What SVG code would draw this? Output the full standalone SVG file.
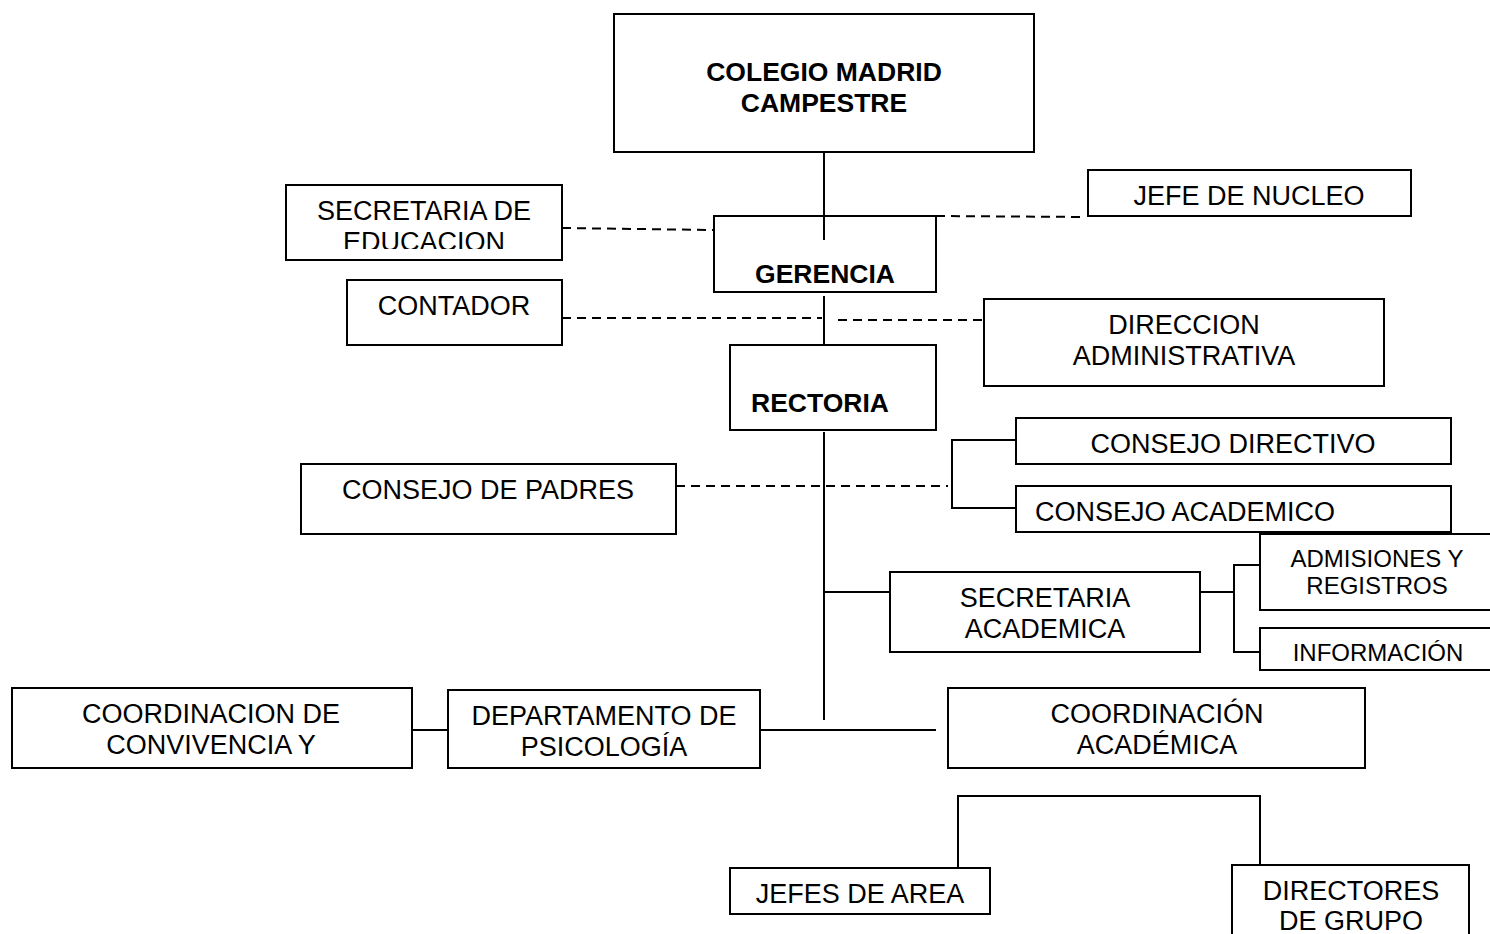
<svg xmlns="http://www.w3.org/2000/svg" width="1490" height="934" viewBox="0 0 1490 934">
<style>
.box{fill:#fff;stroke:#000;stroke-width:2}
.t{font-family:"Liberation Sans",Arial,sans-serif;font-size:27px;fill:#000;text-anchor:middle}
.s{font-size:24px}
.b{font-weight:bold;font-size:26.5px}
.ln{stroke:#000;stroke-width:2;fill:none}
.dash{stroke:#000;stroke-width:2;fill:none;stroke-dasharray:9 6}
</style>
<defs>
<clipPath id="clipEdu"><rect x="286" y="185" width="276" height="64"/></clipPath>
<clipPath id="clipInfo"><rect x="1260" y="628" width="230" height="34"/></clipPath>
</defs>
<rect width="1490" height="934" fill="#fff"/>
<g id="connectors">
<line class="ln" x1="824" y1="152" x2="824" y2="240"/>
<line class="ln" x1="824" y1="296" x2="824" y2="352"/>
<line class="ln" x1="824" y1="432" x2="824" y2="720"/>
<line class="dash" x1="562" y1="228" x2="714" y2="230"/>
<line class="dash" x1="936" y1="216" x2="1086" y2="217"/>
<line class="dash" x1="562" y1="318" x2="822" y2="318"/>
<line class="dash" x1="838" y1="320" x2="984" y2="320"/>
<line class="dash" x1="676" y1="486" x2="948" y2="486"/>
<polyline class="ln" points="1016,440 952,440 952,508 1016,508"/>
<line class="ln" x1="824" y1="592" x2="890" y2="592"/>
<line class="ln" x1="1200" y1="592" x2="1234" y2="592"/>
<polyline class="ln" points="1260,565 1234,565 1234,652 1260,652"/>
<line class="ln" x1="412" y1="730" x2="448" y2="730"/>
<line class="ln" x1="760" y1="730" x2="936" y2="730"/>
<polyline class="ln" points="958,868 958,796 1260,796 1260,865"/>
</g>
<g id="colegio">
<rect class="box" x="614" y="14" width="420" height="138"/>
<text class="t b" x="824" y="81">COLEGIO MADRID</text>
<text class="t b" x="824" y="112">CAMPESTRE</text>
</g>
<g id="gerencia">
<rect class="box" x="714" y="216" width="222" height="76"/>
<line class="ln" x1="824" y1="216" x2="824" y2="240"/>
<text class="t b" x="825" y="283">GERENCIA</text>
</g>
<g id="secretaria-educacion">
<rect class="box" x="286" y="185" width="276" height="75"/>
<text class="t" x="424" y="220">SECRETARIA DE</text>
<text class="t" x="424" y="251" clip-path="url(#clipEdu)">EDUCACION</text>
</g>
<g id="jefe-nucleo">
<rect class="box" x="1088" y="170" width="323" height="46"/>
<text class="t" x="1249" y="205">JEFE DE NUCLEO</text>
</g>
<g id="contador">
<rect class="box" x="347" y="280" width="215" height="65"/>
<text class="t" x="454" y="315">CONTADOR</text>
</g>
<g id="direccion-administrativa">
<rect class="box" x="984" y="299" width="400" height="87"/>
<text class="t" x="1184" y="334">DIRECCION</text>
<text class="t" x="1184" y="365">ADMINISTRATIVA</text>
</g>
<g id="rectoria">
<rect class="box" x="730" y="345" width="206" height="85"/>
<text class="t b" x="820" y="412">RECTORIA</text>
</g>
<g id="consejo-directivo">
<rect class="box" x="1016" y="418" width="435" height="46"/>
<text class="t" x="1233" y="453">CONSEJO DIRECTIVO</text>
</g>
<g id="consejo-academico">
<rect class="box" x="1016" y="486" width="435" height="46"/>
<text class="t" x="1185" y="521">CONSEJO ACADEMICO</text>
</g>
<g id="consejo-padres">
<rect class="box" x="301" y="464" width="375" height="70"/>
<text class="t" x="488" y="499">CONSEJO DE PADRES</text>
</g>
<g id="secretaria-academica">
<rect class="box" x="890" y="572" width="310" height="80"/>
<text class="t" x="1045" y="607">SECRETARIA</text>
<text class="t" x="1045" y="638">ACADEMICA</text>
</g>
<g id="admisiones">
<rect class="box" x="1260" y="534" width="240" height="76"/>
<text class="t s" x="1377" y="567">ADMISIONES Y</text>
<text class="t s" x="1377" y="594">REGISTROS</text>
</g>
<g id="informacion">
<rect class="box" x="1260" y="628" width="240" height="42"/>
<text class="t s" x="1378" y="661" clip-path="url(#clipInfo)">INFORMACIÓN</text>
</g>
<g id="coordinacion-convivencia">
<rect class="box" x="12" y="688" width="400" height="80"/>
<text class="t" x="211" y="723">COORDINACION DE</text>
<text class="t" x="211" y="754">CONVIVENCIA Y</text>
</g>
<g id="departamento-psicologia">
<rect class="box" x="448" y="690" width="312" height="78"/>
<text class="t" x="604" y="725">DEPARTAMENTO DE</text>
<text class="t" x="604" y="756">PSICOLOGÍA</text>
</g>
<g id="coordinacion-academica">
<rect class="box" x="948" y="688" width="417" height="80"/>
<text class="t" x="1157" y="723">COORDINACIÓN</text>
<text class="t" x="1157" y="754">ACADÉMICA</text>
</g>
<g id="jefes-area">
<rect class="box" x="730" y="868" width="260" height="46"/>
<text class="t" x="860" y="903">JEFES DE AREA</text>
</g>
<g id="directores-grupo">
<rect class="box" x="1232" y="865" width="237" height="80"/>
<text class="t" x="1351" y="900">DIRECTORES</text>
<text class="t" x="1351" y="930">DE GRUPO</text>
</g>
</svg>
